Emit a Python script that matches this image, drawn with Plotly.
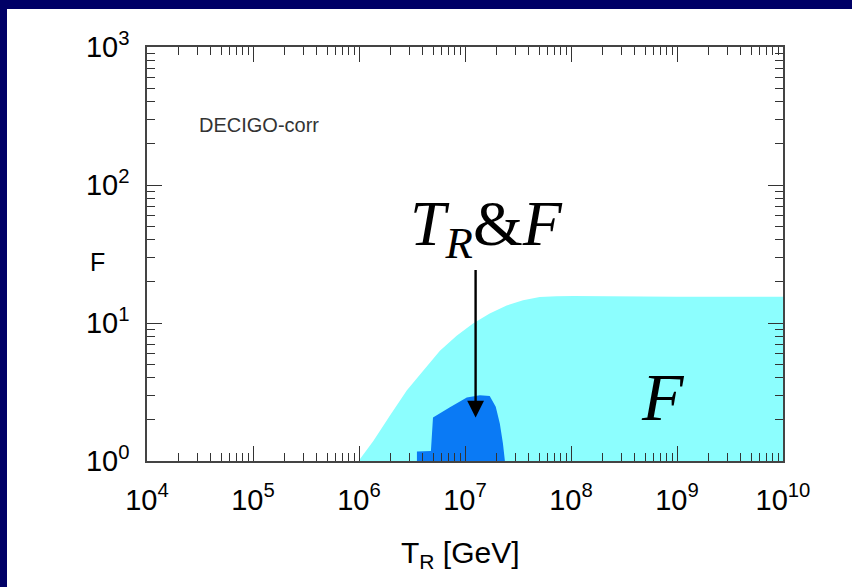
import plotly.graph_objects as go

# ---- data ----
# F region (cyan): upper boundary
f_TR = [9.9e5, 1.37e6, 1.96e6, 2.82e6, 4.05e6, 5.8e6, 8.34e6, 1.19e7, 1.71e7,
        2.47e7, 3.53e7, 5.07e7, 7.28e7, 1.05e8, 1e9, 1e10]
f_F = [1.0, 1.40, 2.14, 3.24, 4.53, 6.3, 8.1, 9.9, 11.7,
       13.4, 14.6, 15.4, 15.6, 15.7, 15.5, 15.5]

# T_R & F region (blue) outline
b_TR = [3.52e6, 3.52e6, 4.77e6, 4.99e6, 7.21e6, 1.04e7, 1.38e7, 1.71e7, 1.95e7, 2.13e7, 2.28e7, 2.38e7]
b_F = [1.0, 1.17, 1.18, 2.07, 2.45, 2.88, 3.0, 2.96, 2.47, 1.87, 1.34, 1.0]

x_ticks = [1e4, 1e5, 1e6, 1e7, 1e8, 1e9, 1e10]
x_ticktext = ["10<sup>4</sup>", "10<sup>5</sup>", "10<sup>6</sup>", "10<sup>7</sup>",
              "10<sup>8</sup>", "10<sup>9</sup>", "10<sup>10</sup>"]
y_ticks = [1, 10, 100, 1000]
y_ticktext = ["10<sup>0</sup>", "10<sup>1</sup>", "10<sup>2</sup>", "10<sup>3</sup>"]

# arrow (log10 coordinates)
arrow_x = 7.10
arrow_tip_y = 0.315
arrow_tail_y = 1.395

# ---- figure ----
W, H = 852, 587
L, R, T, B = 147, 69, 47, 126
pw, ph = W - L - R, H - T - B


def px(xpix):
    return (xpix - L) / pw


def py(ypix):
    return (H - B - ypix) / ph


fig = go.Figure()

cx = f_TR + [f_TR[-1], f_TR[0]]
cy = f_F + [1.0, 1.0]
fig.add_trace(go.Scatter(x=cx, y=cy, fill="toself", mode="lines",
                         line=dict(width=0, color="#8cfefe"),
                         fillcolor="#8cfefe", hoverinfo="skip", showlegend=False))

fig.add_trace(go.Scatter(x=b_TR, y=b_F, fill="toself", mode="lines",
                         line=dict(width=0, color="#0a7af5"),
                         fillcolor="#0a7af5", hoverinfo="skip", showlegend=False))

axis_common = dict(
    type="log",
    showline=True, linecolor="#444", linewidth=1.5,
    mirror="allticks",
    ticks="inside", ticklen=15, tickwidth=1.3, tickcolor="#333",
    showgrid=False, zeroline=False,
    tickfont=dict(family="Liberation Sans, Arial", size=29, color="black"),
    minor=dict(ticks="inside", ticklen=8, tickwidth=1.1, tickcolor="#333", dtick="D1", showgrid=False),
)

fig.update_xaxes(range=[4, 10], tickmode="array", tickvals=x_ticks, ticktext=x_ticktext,
                 ticklabelstandoff=12, **axis_common)
fig.update_yaxes(range=[0, 3], tickmode="array", tickvals=y_ticks, ticktext=y_ticktext,
                 ticklabelstandoff=10, **axis_common)

fig.update_layout(
    width=W, height=H,
    margin=dict(l=L, r=R, t=T, b=B, pad=0),
    paper_bgcolor="white",
    plot_bgcolor="white",
    showlegend=False,
    shapes=[
        dict(type="rect", xref="paper", yref="paper", layer="below",
             x0=px(-5), x1=px(W + 5), y0=py(9), y1=py(-5),
             fillcolor="#000066", line=dict(width=0)),
        dict(type="rect", xref="paper", yref="paper", layer="below",
             x0=px(-5), x1=px(7), y0=py(H + 5), y1=py(-5),
             fillcolor="#000066", line=dict(width=0)),
    ],
)

ann = []
ann.append(dict(xref="x", yref="y", axref="x", ayref="y",
                x=arrow_x, y=arrow_tip_y, ax=arrow_x, ay=arrow_tail_y,
                text="", showarrow=True, arrowhead=2, arrowsize=1.4,
                arrowwidth=2.4, arrowcolor="black", standoff=0))
ann.append(dict(xref="paper", yref="paper", x=px(97), y=py(262), xanchor="center", yanchor="middle",
                text="F", showarrow=False,
                font=dict(family="Liberation Sans, Arial", size=25, color="black")))
ann.append(dict(xref="paper", yref="paper", x=px(460), y=py(554), xanchor="center", yanchor="middle",
                text="T<sub>R</sub> [GeV]", showarrow=False,
                font=dict(family="Liberation Sans, Arial", size=30, color="black")))
ann.append(dict(xref="paper", yref="paper", x=px(259), y=py(125), xanchor="center", yanchor="middle",
                text="DECIGO-corr", showarrow=False,
                font=dict(family="Liberation Sans, Arial", size=20, color="#333")))
ann.append(dict(xref="paper", yref="paper", x=px(663), y=py(397), xanchor="center", yanchor="middle",
                text="<i>F</i>", showarrow=False,
                font=dict(family="Liberation Serif, Times New Roman", size=68, color="black")))
ann.append(dict(xref="paper", yref="paper", x=px(408), y=py(228), xanchor="left", yanchor="middle",
                text="<i>T</i><sub><i>R</i></sub>&amp;<i>F</i>", showarrow=False,
                font=dict(family="Liberation Serif, Times New Roman", size=64, color="black")))
fig.update_layout(annotations=ann)

fig.write_html("out.html")
